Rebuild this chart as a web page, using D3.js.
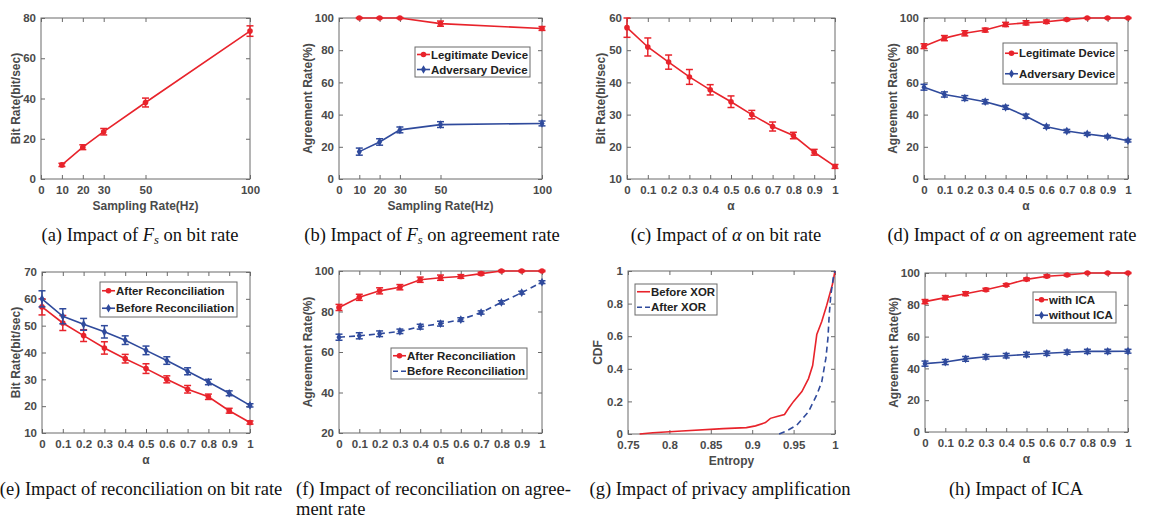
<!DOCTYPE html>
<html>
<head>
<meta charset="utf-8">
<script src="https://cdn.jsdelivr.net/npm/d3@7"></script>
<style>
  body { margin: 0; background: #fff; }
  svg text { font-family: "Liberation Sans", Arial, sans-serif; }
  .cap { font-family: "Liberation Serif", "Times New Roman", serif; font-size: 18.5px; fill: #111; }
</style>
</head>
<body>
<svg id="fig" width="1156" height="518"></svg>
<script>
// ---- data ----
const fsRates = [10, 20, 30, 50, 100];
const fsTicks = [0, 10, 20, 30, 50, 100];
const alphas = [0, 0.1, 0.2, 0.3, 0.4, 0.5, 0.6, 0.7, 0.8, 0.9, 1];
const alphaTickLabels = ["0", "0.1", "0.2", "0.3", "0.4", "0.5", "0.6", "0.7", "0.8", "0.9", "1"];

// (a)
const bitRateFs = [7, 15.8, 23.5, 38, 73.5];
const bitRateFsErr = [0.8, 1.2, 1.6, 2.2, 2.6];
// (b)
const legitFs = [100, 100, 100, 96.5, 93.5];
const legitFsErr = [0.3, 0.3, 0.3, 1.6, 1.2];
const advFs = [17, 23, 30.5, 33.8, 34.5];
const advFsErr = [2.2, 2.0, 1.8, 1.8, 1.5];
// (c) / (e) after reconciliation
const bitRateAlpha = [57, 51, 46.3, 41.7, 37.7, 34, 30, 26.3, 23.5, 18.3, 13.9];
const bitRateAlphaErr = [3, 2.8, 2.2, 2.3, 1.6, 1.8, 1.3, 1.4, 1.0, 0.9, 0.6];
// (d)
const legitAlpha = [82.5, 87.5, 90.5, 92.5, 96, 97, 97.7, 99, 100, 100, 100];
const legitAlphaErr = [1.5, 1.6, 1.6, 1.2, 1.3, 1.3, 1.0, 0.6, 0.3, 0.3, 0.3];
const advAlpha = [57, 52.5, 50.3, 48, 44.5, 39, 32.5, 29.8, 28, 26.3, 23.8];
const advAlphaErr = [1.8, 1.6, 1.5, 1.3, 1.2, 1.3, 1.0, 1.0, 0.9, 0.8, 0.8];
// (e) before reconciliation
const bitRateBefore = [60, 53.5, 50.5, 47.7, 44.6, 40.8, 37, 33, 29, 24.8, 20.3];
const bitRateBeforeErr = [3, 2.8, 2.2, 2.3, 1.6, 1.6, 1.4, 1.3, 1.0, 0.9, 0.6];
// (f)
const agreeAfter = [82, 87, 90.2, 92, 95.7, 96.7, 97.3, 98.7, 100, 100, 100];
const agreeAfterErr = [1.5, 1.5, 1.5, 1.3, 1.3, 1.3, 0.9, 0.7, 0.3, 0.3, 0.3];
const agreeBefore = [67.3, 68, 69, 70.2, 72.5, 74, 76, 79.5, 84.5, 89.3, 94.5];
const agreeBeforeErr = [1.5, 1.5, 1.4, 1.1, 1.2, 1.2, 0.9, 0.8, 0.8, 0.7, 0.7];
// (g) CDF of entropy
const entropyBefore = [0.764, 0.78, 0.815, 0.865, 0.893, 0.904, 0.916, 0.922, 0.93, 0.939, 0.944, 0.95, 0.96, 0.968, 0.973, 0.978, 0.984, 0.99, 0.997, 1];
const cdfBefore = [0, 0.008, 0.018, 0.033, 0.039, 0.05, 0.07, 0.096, 0.107, 0.12, 0.158, 0.2, 0.26, 0.34, 0.42, 0.61, 0.69, 0.79, 0.92, 1];
const entropyAfter = [0.9325, 0.942, 0.954, 0.968, 0.978, 0.984, 0.989, 0.9915, 0.993, 0.995, 0.998, 1];
const cdfAfter = [0, 0.02, 0.055, 0.137, 0.24, 0.32, 0.465, 0.59, 0.73, 0.855, 0.96, 1];
// (h)
const withIca = [82, 84.5, 87, 89.5, 92.5, 96, 98, 98.7, 100, 100, 100];
const withIcaErr = [1.3, 1.3, 1.2, 0.9, 0.8, 0.8, 0.8, 0.6, 0.3, 0.3, 0.3];
const withoutIca = [43, 44, 46, 47.3, 48, 48.7, 49.5, 50.2, 50.7, 50.7, 50.8];
const withoutIcaErr = [1.6, 1.6, 1.5, 1.4, 1.4, 1.4, 1.3, 1.3, 1.3, 1.3, 1.2];

const RED = "#e8232b", BLUE = "#2f4a9c";
const TICK_FS = 11.5, TITLE_FS = 12, LEG_FS = 11.5;
const svg = d3.select("#fig");

function zip(xs, ys, es) {
  return xs.map((x, i) => ({ x, y: ys[i], e: es ? es[i] : 0 }));
}

function drawMarker(g, shape, color, x, y) {
  if (shape === "circle") {
    g.append("circle").attr("cx", x).attr("cy", y).attr("r", 2.8).attr("fill", color);
  } else if (shape === "diamond") {
    g.append("path").attr("d", d3.symbol(d3.symbolDiamond, 22)()).attr("transform", `translate(${x},${y})`).attr("fill", color);
  }
}

function panel(cfg) {
  const [x0, x1, y0, y1] = cfg.box;
  const g = svg.append("g");
  const x = d3.scaleLinear().domain(cfg.xDomain).range([x0, x1]);
  const y = d3.scaleLinear().domain(cfg.yDomain).range([y1, y0]);

  // frame
  g.append("rect").attr("x", x0).attr("y", y0).attr("width", x1 - x0).attr("height", y1 - y0)
    .attr("fill", "none").attr("stroke", "#6a6a6a").attr("stroke-width", 1);

  // axes with inward ticks on all sides
  const fmtX = (d, i) => cfg.xLabels ? cfg.xLabels[i] : d;
  g.append("g").attr("transform", `translate(0,${y1})`)
    .call(d3.axisBottom(x).tickValues(cfg.xTicks).tickFormat(fmtX).tickSizeInner(-4).tickSizeOuter(0).tickPadding(7));
  g.append("g").attr("transform", `translate(0,${y0})`)
    .call(d3.axisTop(x).tickValues(cfg.xTicks).tickFormat("").tickSizeInner(-4).tickSizeOuter(0));
  const fmtY = (d, i) => cfg.yLabels ? cfg.yLabels[i] : d;
  g.append("g").attr("transform", `translate(${x0},0)`)
    .call(d3.axisLeft(y).tickValues(cfg.yTicks).tickFormat(fmtY).tickSizeInner(-4).tickSizeOuter(0).tickPadding(5));
  g.append("g").attr("transform", `translate(${x1},0)`)
    .call(d3.axisRight(y).tickValues(cfg.yTicks).tickFormat("").tickSizeInner(-4).tickSizeOuter(0));
  g.selectAll(".domain").remove();
  g.selectAll(".tick line").attr("stroke", "#6a6a6a");
  g.selectAll(".tick text").attr("font-size", TICK_FS).attr("font-weight", "bold").attr("fill", "#4a4a4a")
    .attr("font-family", "Liberation Sans, Arial, sans-serif");

  // axis labels
  g.append("text").attr("x", (x0 + x1) / 2).attr("y", y1 + 31).attr("text-anchor", "middle")
    .attr("font-size", TITLE_FS).attr("font-weight", "bold").attr("fill", "#4a4a4a").text(cfg.xTitle);
  g.append("text").attr("transform", `translate(${x0 - cfg.yTitleOff},${(y0 + y1) / 2}) rotate(-90)`)
    .attr("text-anchor", "middle").attr("dy", "0.35em")
    .attr("font-size", TITLE_FS).attr("font-weight", "bold").attr("fill", "#4a4a4a").text(cfg.yTitle);

  // series
  const line = d3.line().x(d => x(d.x)).y(d => y(d.y));
  cfg.series.forEach(s => {
    const sg = g.append("g");
    sg.append("path").datum(s.data).attr("d", line).attr("fill", "none")
      .attr("stroke", s.color).attr("stroke-width", 1.6)
      .attr("stroke-dasharray", s.dash || null);
    s.data.forEach(d => {
      if (d.e > 0) {
        const ya = y(d.y - d.e), yb = y(d.y + d.e), xc = x(d.x);
        sg.append("line").attr("x1", xc).attr("x2", xc).attr("y1", ya).attr("y2", yb)
          .attr("stroke", s.color).attr("stroke-width", 1.5);
        [ya, yb].forEach(yy => sg.append("line").attr("x1", xc - 3.5).attr("x2", xc + 3.5)
          .attr("y1", yy).attr("y2", yy).attr("stroke", s.color).attr("stroke-width", 1.5));
      }
      if (s.marker) drawMarker(sg, s.marker, s.color, x(d.x), y(d.y));
    });
  });

  // legend
  if (cfg.legend) {
    const [lx0, lx1, ly0, ly1] = cfg.legend;
    const lg = g.append("g");
    lg.append("rect").attr("x", lx0).attr("y", ly0).attr("width", lx1 - lx0).attr("height", ly1 - ly0)
      .attr("fill", "#fff").attr("stroke", "#6a6a6a").attr("stroke-width", 1);
    const rowH = (ly1 - ly0) / cfg.series.length;
    cfg.series.forEach((s, i) => {
      const cy = ly0 + rowH * (i + 0.5);
      lg.append("line").attr("x1", lx0 + 2).attr("x2", lx0 + 15).attr("y1", cy).attr("y2", cy)
        .attr("stroke", s.color).attr("stroke-width", 1.6).attr("stroke-dasharray", s.dash ? "5,3" : null);
      if (s.marker && !s.dash) drawMarker(lg, s.marker, s.color, lx0 + 8.5, cy);
      const t = lg.append("text").attr("x", lx0 + 16).attr("y", cy).attr("dy", "0.35em")
        .attr("font-size", LEG_FS).attr("font-weight", "bold").attr("fill", "#222").text(s.name);
      const avail = lx1 - lx0 - 18;
      if (t.node().getComputedTextLength() > avail) t.attr("textLength", avail).attr("lengthAdjust", "spacingAndGlyphs");
    });
  }
}

const fsX = { xDomain: [0, 100], xTicks: fsTicks, xTitle: "Sampling Rate(Hz)" };
const alphaX = { xDomain: [0, 1], xTicks: alphas, xLabels: alphaTickLabels, xTitle: "α" };
const pct = { yDomain: [0, 100], yTicks: [0, 20, 40, 60, 80, 100], yTitle: "Agreement Rate(%)", yTitleOff: 31 };

panel({ box: [41, 250, 18, 179], ...fsX, yDomain: [0, 80], yTicks: [0, 20, 40, 60, 80],
  yTitle: "Bit Rate(bit/sec)", yTitleOff: 25,
  series: [{ name: "", color: RED, marker: "circle", data: zip(fsRates, bitRateFs, bitRateFsErr) }] });

panel({ box: [339, 542, 18, 179], ...fsX, ...pct, legend: [415, 530, 47, 77],
  series: [
    { name: "Legitimate Device", color: RED, marker: "circle", data: zip(fsRates, legitFs, legitFsErr) },
    { name: "Adversary Device", color: BLUE, marker: "diamond", data: zip(fsRates, advFs, advFsErr) }] });

panel({ box: [627, 835, 18, 179], ...alphaX, yDomain: [10, 60], yTicks: [10, 20, 30, 40, 50, 60],
  yTitle: "Bit Rate(bit/sec)", yTitleOff: 26,
  series: [{ name: "", color: RED, marker: "circle", data: zip(alphas, bitRateAlpha, bitRateAlphaErr) }] });

panel({ box: [924, 1128, 18, 179], ...alphaX, ...pct, legend: [1003, 1117, 43, 84],
  series: [
    { name: "Legitimate Device", color: RED, marker: "circle", data: zip(alphas, legitAlpha, legitAlphaErr) },
    { name: "Adversary Device", color: BLUE, marker: "diamond", data: zip(alphas, advAlpha, advAlphaErr) }] });

panel({ box: [42, 250, 272, 433], ...alphaX, yDomain: [10, 70], yTicks: [10, 20, 30, 40, 50, 60, 70],
  yTitle: "Bit Rate(bit/sec)", yTitleOff: 26, legend: [100, 237, 282, 317],
  series: [
    { name: "After Reconciliation", color: RED, marker: "circle", data: zip(alphas, bitRateAlpha, bitRateAlphaErr) },
    { name: "Before Reconciliation", color: BLUE, marker: "diamond", data: zip(alphas, bitRateBefore, bitRateBeforeErr) }] });

panel({ box: [339, 542, 271, 433], ...alphaX, ...pct, yDomain: [20, 100], yTicks: [20, 40, 60, 80, 100],
  legend: [391, 527, 348, 379],
  series: [
    { name: "After Reconciliation", color: RED, marker: "circle", data: zip(alphas, agreeAfter, agreeAfterErr) },
    { name: "Before Reconciliation", color: BLUE, marker: "diamond", dash: "6,4", data: zip(alphas, agreeBefore, agreeBeforeErr) }] });

panel({ box: [628, 835, 271, 434], xDomain: [0.75, 1], xTicks: [0.75, 0.8, 0.85, 0.9, 0.95, 1],
  xLabels: ["0.75", "0.8", "0.85", "0.9", "0.95", "1"], xTitle: "Entropy",
  yDomain: [0, 1], yTicks: [0, 0.2, 0.4, 0.6, 0.8, 1], yLabels: ["0", "0.2", "0.4", "0.6", "0.8", "1"],
  yTitle: "CDF", yTitleOff: 30, legend: [635, 717, 284, 315],
  series: [
    { name: "Before XOR", color: RED, data: zip(entropyBefore, cdfBefore) },
    { name: "After XOR", color: BLUE, dash: "6,4", data: zip(entropyAfter, cdfAfter) }] });

panel({ box: [925, 1128, 273, 432], ...alphaX, ...pct, legend: [1033, 1116, 292, 323],
  series: [
    { name: "with ICA", color: RED, marker: "circle", data: zip(alphas, withIca, withIcaErr) },
    { name: "without ICA", color: BLUE, marker: "diamond", data: zip(alphas, withoutIca, withoutIcaErr) }] });

// captions
function caption(x, y, parts, anchor) {
  const t = svg.append("text").attr("class", "cap").attr("x", x).attr("y", y).attr("text-anchor", anchor || "middle");
  parts.forEach(p => {
    const ts = t.append("tspan").text(p.t);
    if (p.i) ts.attr("font-style", "italic");
    if (p.sub) ts.attr("font-size", "12.5px").attr("dy", 3).attr("font-style", "italic");
    if (p.up) ts.attr("dy", -3);
  });
}
caption(140, 241, [{ t: "(a)  Impact of " }, { t: "F", i: 1 }, { t: "s", sub: 1 }, { t: " on bit rate", up: 1 }]);
caption(432, 241, [{ t: "(b)  Impact of " }, { t: "F", i: 1 }, { t: "s", sub: 1 }, { t: " on agreement rate", up: 1 }]);
caption(726, 241, [{ t: "(c)  Impact of " }, { t: "α", i: 1 }, { t: " on bit rate" }]);
caption(1012, 241, [{ t: "(d)  Impact of " }, { t: "α", i: 1 }, { t: " on agreement rate" }]);
caption(141, 495, [{ t: "(e)  Impact of reconciliation on bit rate" }]);
caption(296, 495, [{ t: "(f)  Impact of reconciliation on agree-" }], "start");
caption(296, 515, [{ t: "ment rate" }], "start");
caption(720, 495, [{ t: "(g)  Impact of privacy amplification" }]);
caption(1016, 495, [{ t: "(h)  Impact of ICA" }]);
</script>
</body>
</html>
